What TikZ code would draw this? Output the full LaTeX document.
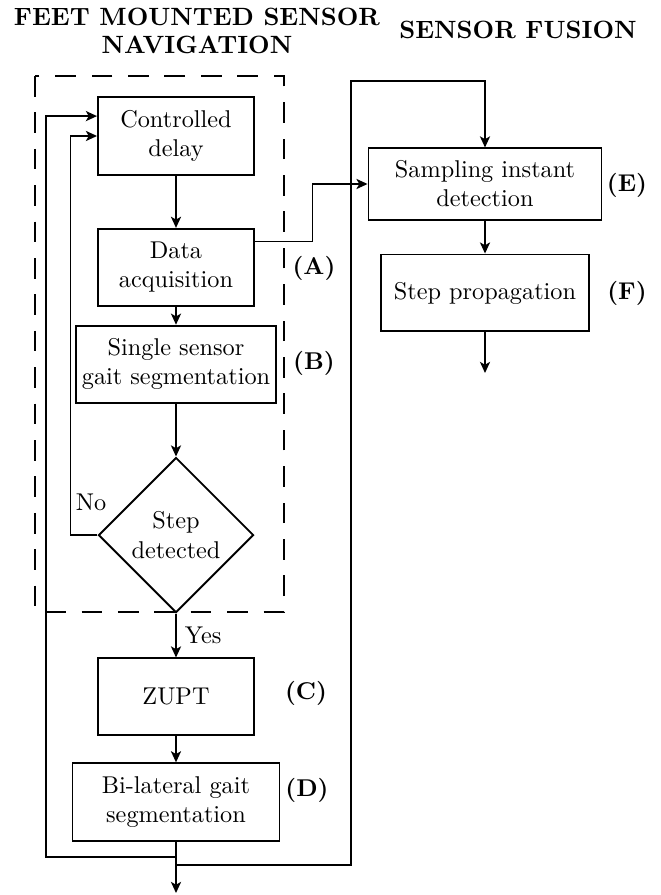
\documentclass[tikz,border=0pt]{standalone}
\usepackage{amsmath,amssymb}
\usepackage{xcolor}
\usepackage{tikz}
\usetikzlibrary{arrows.meta,positioning,shapes.geometric}
\tikzset{
  pbox/.style={draw=black, thick, align=center, inner sep=2pt, minimum height=31.7pt, minimum width=63.9pt},
  dbox/.style={draw=black, thick, diamond, aspect=1, align=center, inner sep=0pt, minimum size=63.9pt},
  tag/.style={font=\bfseries},
  ttl/.style={font=\fontsize{10.3}{11.8}\selectfont\bfseries, align=center},
  grp/.style={semithick, dash pattern=on 8.5pt off 6.5pt},
  parr/.style={-{Stealth[length=4.6pt, width=4.2pt, inset=1.2pt]}, semithick},
  pline/.style={semithick}
}

\begin{document}
\begin{tikzpicture}[x=0.412pt, y=-0.412pt]
\useasboundingbox (0,0) rectangle (660,895);
% titles
\node[ttl] (tnav) at (197,31) {FEET MOUNTED SENSOR\\NAVIGATION};
\node[ttl] (tfus) at (518,30) {SENSOR FUSION};
% left column
\node[pbox, minimum width=64.3pt, minimum height=32.1pt] (delay) at (176,136) {Controlled\\delay};
\node[pbox, below=21.4pt of delay] (acq) {Data\\acquisition};
\node[pbox, below=7.4pt of acq, minimum width=82.4pt, inner xsep=1pt] (single) {Single sensor\\gait segmentation};
\node[dbox, below=21.8pt of single] (stepdet) {Step\\detected};
\node[pbox, below=18.1pt of stepdet] (zupt) {ZUPT};
\node[pbox, below=10.7pt of zupt, minimum width=85.3pt, minimum height=32.1pt] (bilat) {Bi-lateral gait\\segmentation};
% right column
\node[pbox, minimum width=96pt, minimum height=29.3pt] (samp) at (485,184) {Sampling instant\\detection};
\node[pbox, below=13.6pt of samp, minimum width=85.7pt] (prop) {Step propagation};
% block tags
\node[tag] (tagA) at (314,268) {(A)};
\node[tag] (tagB) at (314,363) {(B)};
\node[tag] (tagC) at (306,693) {(C)};
\node[tag] (tagD) at (307,790) {(D)};
\node[tag] (tagE) at (627,185) {(E)};
\node[tag] (tagF) at (627,293) {(F)};
% per-sensor group
\draw[grp] (35,76) rectangle (284,612);
% end points and bends
\coordinate (outL) at (175,893);
\coordinate (outR) at (484,373);
\coordinate (backL) at (46,857);
\coordinate (backR) at (351,865);
\coordinate (topR) at (351,81);
% main flow
\draw[parr] (delay) -- (acq);
\draw[parr] (acq) -- (single);
\draw[parr] (single) -- (stepdet);
\draw[parr] (stepdet) -- node[right] {Yes} (zupt);
\draw[parr] (zupt) -- (bilat);
\draw[parr] (bilat.south) -- (bilat.south |- outL);
\draw[parr] (stepdet.west) -- ++(-27,0) |- (delay.west);
\node (nolab) at (91,502) {No};
\draw[parr] (bilat.south |- backL) -- (backL) |- ([yshift=8.2pt]delay.west);
\draw[parr] (bilat.south |- backR) -- (backR) -- (topR) -| (samp.north);
\draw[parr] ([yshift=10.7pt]acq.east) -- ++(58,0) |- (samp.west);
\draw[parr] (samp) -- (prop);
\draw[parr] (prop.south) -- (prop.south |- outR);
\end{tikzpicture}
\end{document}
